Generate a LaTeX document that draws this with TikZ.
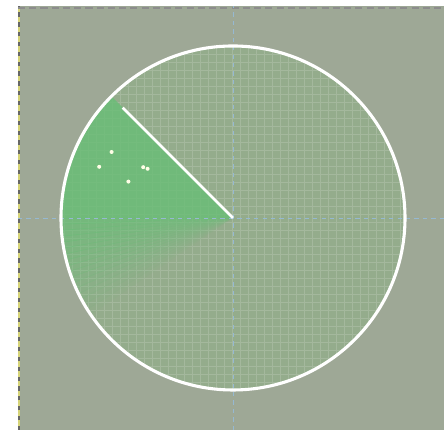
\documentclass[tikz,border=0pt]{standalone}
\usepackage{xcolor}
\usepackage{tikz}
\usetikzlibrary{arrows.meta,calc}
\definecolor{screen}{RGB}{158,168,150}
\definecolor{scope}{RGB}{148,172,140}
\definecolor{echo}{RGB}{104,190,118}
\definecolor{cross}{RGB}{150,185,210}
\definecolor{rim}{RGB}{214,212,120}
\begin{document}
\begin{tikzpicture}
\useasboundingbox(0,0)rectangle(11.1,10.75);
\fill[white](0,0)rectangle(11.1,10.75);
\fill[screen](0.45,0)rectangle(11.1,10.6);
\draw[rim,line width=1.2pt](0.47,0)--(0.47,10.6);
\draw[gray!80!black,line width=1.2pt,dash pattern=on 3pt off 4pt](0.47,0)--(0.47,10.6);
\draw[gray!90,line width=1.2pt,dash pattern=on 5pt off 3pt](0.45,10.55)--(11.1,10.55);
\coordinate(centre)at(5.825,5.3);
\fill[scope](centre)circle(4.3);
\begin{scope}
\clip(centre)circle(4.3);
\draw[scope!85!white,line width=0.3pt,step=0.2](1.4,0.9)grid(10.3,9.7);
\foreach \a in {0,...,16}
{\fill[echo,opacity=0.7-0.04*\a](centre)--++(180+2*\a:4.4)arc(180+2*\a:182.2+2*\a:4.4)--cycle;}
\fill[echo,opacity=0.8](centre)--++(135:4.4)arc(135:180.2:4.4)--cycle;
\fill[screen!60!scope,opacity=0.7](centre)--++(135.5:3.9)arc(135.5:133:1)--cycle;
\end{scope}
\draw[cross,dashed,line width=0.6pt](0.45,5.3)--(11.1,5.3)
(5.825,0)--(5.825,10.6);
\draw[white,line width=2.2pt](centre)circle(4.3);
\coordinate(tip)at($(centre)+(135:3.9)$);
\draw[white,line width=2pt](centre)--(tip);
\foreach \p in {(2.79,6.95),(2.48,6.58),(3.21,6.21),(3.58,6.57),(3.69,6.53)}
{\fill[white!90!yellow]\p circle(0.05);}
\end{tikzpicture}
\end{document}
